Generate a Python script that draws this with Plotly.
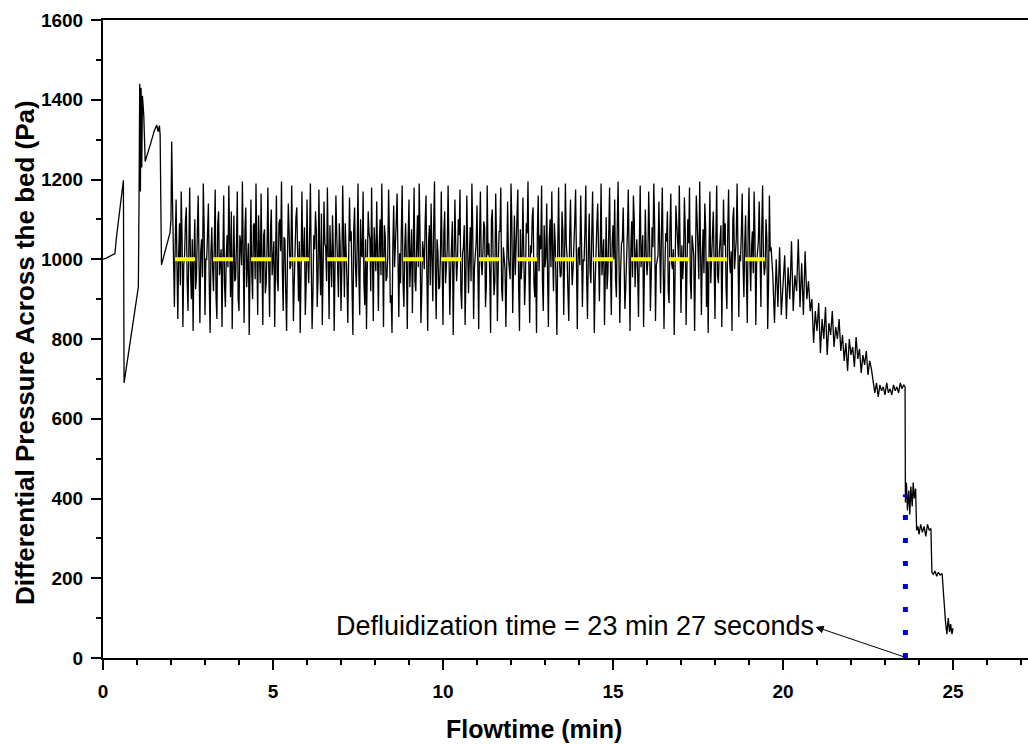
import numpy as np
import plotly.graph_objects as go

# ---- start-up section (min, Pa) ----
start_t = [0.00, 0.08, 0.35, 0.40, 0.60, 0.61, 0.62, 0.94, 1.04, 1.06, 1.08, 1.10, 1.12,
           1.14, 1.16, 1.20, 1.24, 1.40, 1.50, 1.58, 1.62, 1.66, 1.68, 1.72, 1.97, 2.00, 2.02]
start_p = [1000, 1002, 1014, 1058, 1198, 1050, 690, 873, 931, 1150, 1440, 1170, 1430,
           1230, 1410, 1360, 1245, 1290, 1320, 1337, 1320, 1335, 1312, 986, 1066, 1100, 1295]

# ---- fluidized section: samples every 0.025 min from 2.05 min,
#      given as two interleaved readings (A at 2.05+0.05k, B at 2.075+0.05k) ----
fluid_t0 = 2.05
fluid_dt = 0.05
fluid_pA = [
    1120, 880, 1150, 850, 1090, 1170, 830, 1010, 1130, 870, 1180, 900, 820, 1100, 960, 1160, 840, 1050, 1190, 860,
    1000, 1140, 815, 1080, 920, 1175, 850, 1120, 990, 830, 1160, 880, 1060, 1185, 905, 825, 1110, 950, 1170, 870,
    1040, 1195, 840, 1130, 980, 810, 1150, 900, 1090, 1190, 860, 1020, 1165, 835, 1075, 940, 1180, 855, 1125, 1010,
    830, 1160, 920, 1100, 1195, 870, 1050, 820, 1140, 975, 1185, 845, 1080, 1130, 895, 815, 1170, 1000, 860, 1150,
    940, 1190, 825, 1060, 1120, 880, 1175, 910, 835, 1145, 1030, 1180, 850, 990, 1110, 820, 1160, 960, 1090, 870,
    1185, 905, 1040, 840, 1155, 1070, 810, 1130, 930, 1190, 860, 1010, 1170, 885, 825, 1120, 1050, 1180, 845, 985,
    1145, 870, 1100, 1190, 830, 1060, 955, 1175, 890, 815, 1135, 1025, 1165, 855, 940, 1185, 880, 1090, 825, 1150,
    1000, 865, 1180, 920, 1110, 1190, 840, 1045, 975, 1160, 820, 1085, 1140, 895, 1195, 850, 1020, 930, 1170, 835,
    1120, 990, 1185, 860, 1065, 810, 1150, 945, 1100, 1175, 875, 1030, 835, 1160, 915, 1080, 1190, 850, 1005, 1135,
    825, 1170, 960, 1095, 880, 1185, 1040, 815, 1125, 910, 1165, 845, 1070, 1180, 895, 1000, 830, 1145, 970, 1190,
    865, 1110, 1035, 1175, 820, 950, 1155, 885, 1090, 1195, 840, 1015, 1130, 905, 815, 1160, 1060, 1185, 870, 980,
    1140, 830, 1100, 1170, 920, 1045, 810, 1180, 955, 1120, 860, 1190, 1005, 845, 1150, 935, 1075, 1175, 825, 1030,
    1160, 880, 995, 1185, 850, 1115, 940, 1170, 815, 1060, 1140, 895, 1190, 1020, 835, 1105, 965, 1180, 860, 1085,
    1150, 905, 1195, 840, 1040, 1130, 875, 985, 1175, 820, 1095, 1160, 930, 1050, 855, 1185, 1010, 830, 1125, 960,
    1170, 870, 1080, 1190, 845, 1000, 1145, 915, 1180, 825, 1065, 1120, 890, 1165, 975, 810, 1135, 1045, 1185, 865,
    950, 1155, 835, 1100, 1180, 900, 1030, 820, 1160, 985, 1195, 860, 1075, 1140, 880, 815, 1170, 1010, 1120, 850,
    1185, 940, 1060, 830, 1150, 1090, 875, 1175, 965, 820, 1130, 1040, 1190, 855, 995, 1165, 905, 1110, 840, 1180,
    920, 1070, 1170, 835, 1015, 1145, 880, 1185, 960, 1100, 825, 1160, 1030,
]
fluid_pB = [
    960, 1040, 990, 1010, 935, 1060, 985, 1095, 945, 1030, 970, 1050, 1005, 925, 1070, 990, 1020, 955, 1080, 1000,
    1065, 940, 1015, 975, 1045, 905, 1090, 960, 1025, 1100, 935, 1005, 980, 1055, 1120, 975, 945, 1035, 900, 1060,
    985, 1010, 1075, 930, 1040, 1000, 965, 1085, 950, 1020, 1110, 940, 995, 1060, 915, 1030, 980, 1070, 960, 1045,
    1005, 950, 1090, 1020, 970, 1055, 920, 1000, 1065, 985, 1030, 940, 1105, 975, 1045, 960, 1010, 1080, 935, 1000,
    1050, 990, 915, 1025, 1070, 955, 1005, 1115, 980, 1040, 945, 1010, 1085, 930, 1020, 995, 1060, 905, 1035, 975,
    1015, 1090, 950, 1000, 1045, 925, 1075, 985, 1030, 960, 1100, 1005, 940, 1050, 990, 1065, 920, 1010, 1080, 970,
    995, 1040, 960, 1020, 1085, 945, 1005, 1060, 910, 1035, 980, 1095, 955, 1015, 1070, 940, 1025, 990, 1055, 930,
    1075, 1000, 945, 1030, 980, 1060, 915, 1020, 1090, 965, 1040, 935, 1005, 1080, 970, 1050, 925, 1010, 985, 1065,
    940, 1025, 1005, 970, 1095, 950, 1035, 990, 1060, 920, 1015, 1085, 960, 1030, 1000, 945, 1070, 980, 1040, 915,
    1055, 990, 1020, 1080, 935, 1010, 965, 1100, 1000, 945, 1045, 985, 1070, 925, 1030, 975, 1060, 1005, 950, 1090,
    1010, 960, 1045, 930, 1075, 995, 1020, 950, 1065, 985, 1035, 1105, 940, 1000, 1060, 970, 1025, 945, 1085, 1005,
    965, 1050, 980, 1015, 1090, 935, 1030, 1000, 960, 1070, 990, 1040, 915, 1055, 1010, 975, 1095, 950, 1025, 985,
    1040, 1000, 1075, 955, 1020, 970, 1060, 1005, 940, 1085, 995, 1030, 960, 1050, 1015, 925, 1065, 985, 1035, 1000,
    950, 1080, 1010, 975, 1045, 1000, 930, 1070, 990, 1025, 955, 1100, 1005, 965, 1040, 980, 1060, 935, 1020, 995,
    1055, 960, 1030, 1085, 985, 1010, 940, 1065, 1000, 970, 1045, 920, 1075, 990, 1025, 960, 1090, 1005, 950, 1035,
    1000, 1070, 975, 1040, 945, 1060, 1010, 985, 1095, 950, 1030, 1005, 965, 1080, 995, 1020, 940, 1055, 985, 1045,
    960, 1015, 1085, 990, 1035, 930, 1070, 1000, 1020, 1100, 975, 1050, 945, 1010, 1065, 985, 1040, 955, 1080, 1000,
    1030, 965, 1060, 990, 1045, 920, 1075, 1005, 980, 1050, 940, 1020, 995,
]

# ---- defluidizing section, sampled every 0.05 min from 19.70 min ----
decline_t0 = 19.70
decline_dt = 0.05
decline_p = [
    960, 840, 1000, 880, 1030, 860, 950, 1010, 850, 980, 900, 1045, 870, 960, 920, 1050, 880, 990, 860, 1020, 900, 945, 870,
    900, 790, 870, 820, 890, 765, 850, 800, 880, 760, 840, 810, 870, 780, 830, 800, 850, 770,
    810, 745, 790, 720, 800, 760, 780, 730, 805, 750, 775, 715, 760, 735, 770, 710, 745, 725,
    700, 665, 690, 655, 685, 670, 680, 660, 690, 665, 675, 660, 685, 670, 680, 665, 690, 675, 685,
]

# ---- after the collapse (min, Pa) ----
end_t = [23.59, 23.60, 23.63, 23.66, 23.70, 23.73, 23.76, 23.80, 23.83, 23.86, 23.90, 23.93,
         23.97, 24.00, 24.05, 24.10, 24.15, 24.20, 24.25, 24.30, 24.35, 24.38, 24.42, 24.47,
         24.52, 24.57, 24.62, 24.68, 24.72, 24.78, 24.82, 24.86, 24.90, 24.93, 24.97, 25.00]
end_p = [680, 390, 440, 370, 420, 360, 430, 380, 440, 400, 425, 320,
         330, 310, 335, 315, 330, 305, 335, 320, 325, 215, 210, 218,
         205, 215, 208, 212, 150, 90, 60, 100, 65, 85, 60, 75]

# reference lines / annotation values
mean_level = 1000
mean_t = [2.12, 19.70]
defl_t = 23.60
defl_top = 410
label_text = "Defluidization time = 23 min 27 seconds"

# interleave the two fluidized readings
n = len(fluid_pA)
fluid_t = np.empty(2 * n)
fluid_t[0::2] = fluid_t0 + fluid_dt * np.arange(n)
fluid_t[1::2] = fluid_t0 + fluid_dt / 2 + fluid_dt * np.arange(n)
fluid_p = np.empty(2 * n)
fluid_p[0::2] = fluid_pA
fluid_p[1::2] = fluid_pB

decline_t = decline_t0 + decline_dt * np.arange(len(decline_p))
t_all = np.concatenate([start_t, fluid_t, decline_t, end_t])
p_all = np.concatenate([start_p, fluid_p, decline_p, end_p])

fig = go.Figure()
fig.add_trace(go.Scatter(x=t_all, y=p_all, mode="lines",
                         line=dict(color="black", width=1.3), showlegend=False,
                         hoverinfo="skip"))
fig.add_trace(go.Scatter(x=mean_t, y=[mean_level, mean_level], mode="lines",
                         line=dict(color="#FFFF00", width=4, dash="20px,18px"),
                         showlegend=False))
fig.add_trace(go.Scatter(x=[defl_t, defl_t], y=[0, defl_top], mode="lines",
                         line=dict(color="#0000DD", width=5, dash="5px,18px"),
                         showlegend=False))

font_fam = "Liberation Sans, Arial, sans-serif"

fig.update_layout(
    width=1028, height=744,
    margin=dict(l=103, r=0, t=20, b=86),
    paper_bgcolor="white", plot_bgcolor="white",
    font=dict(family=font_fam, color="black"),
    xaxis=dict(range=[0, 27.206], tick0=0, dtick=5, showgrid=False, zeroline=False,
               showline=True, linecolor="black", linewidth=2, mirror=True,
               ticks="outside", ticklen=10, tickwidth=2, tickcolor="black",
               tickfont=dict(family=font_fam, size=19, weight="bold"),
               minor=dict(dtick=1, ticks="outside", ticklen=5, tickwidth=2, tickcolor="black"),
               ticklabelstandoff=5),
    yaxis=dict(range=[0, 1600], tick0=0, dtick=200, showgrid=False, zeroline=False,
               showline=True, linecolor="black", linewidth=2, mirror=False,
               ticks="outside", ticklen=10, tickwidth=2, tickcolor="black",
               tickfont=dict(family=font_fam, size=19, weight="bold"),
               minor=dict(dtick=100, ticks="outside", ticklen=5, tickwidth=2, tickcolor="black"),
               ticklabelstandoff=4),
    annotations=[
        dict(text="Flowtime (min)", xref="paper", yref="paper", x=0.466, y=-0.111,
             xanchor="center", yanchor="middle", showarrow=False,
             font=dict(family=font_fam, size=25, weight="bold")),
        dict(text="Differential Pressure Across the bed (Pa)", xref="paper", yref="paper",
             x=-0.0843, y=0.478, xanchor="center", yanchor="middle", textangle=-90,
             showarrow=False, font=dict(family=font_fam, size=26, weight="bold")),
        dict(text=label_text, xref="x", yref="y", x=13.87, y=80,
             xanchor="center", yanchor="middle", showarrow=False,
             font=dict(family=font_fam, size=27)),
        dict(text="", xref="x", yref="y", x=20.96, y=78, axref="x", ayref="y",
             ax=23.59, ay=2, showarrow=True, arrowhead=2, arrowsize=1.6,
             arrowwidth=1, arrowcolor="black"),
    ],
)

fig.write_html("out.html")
